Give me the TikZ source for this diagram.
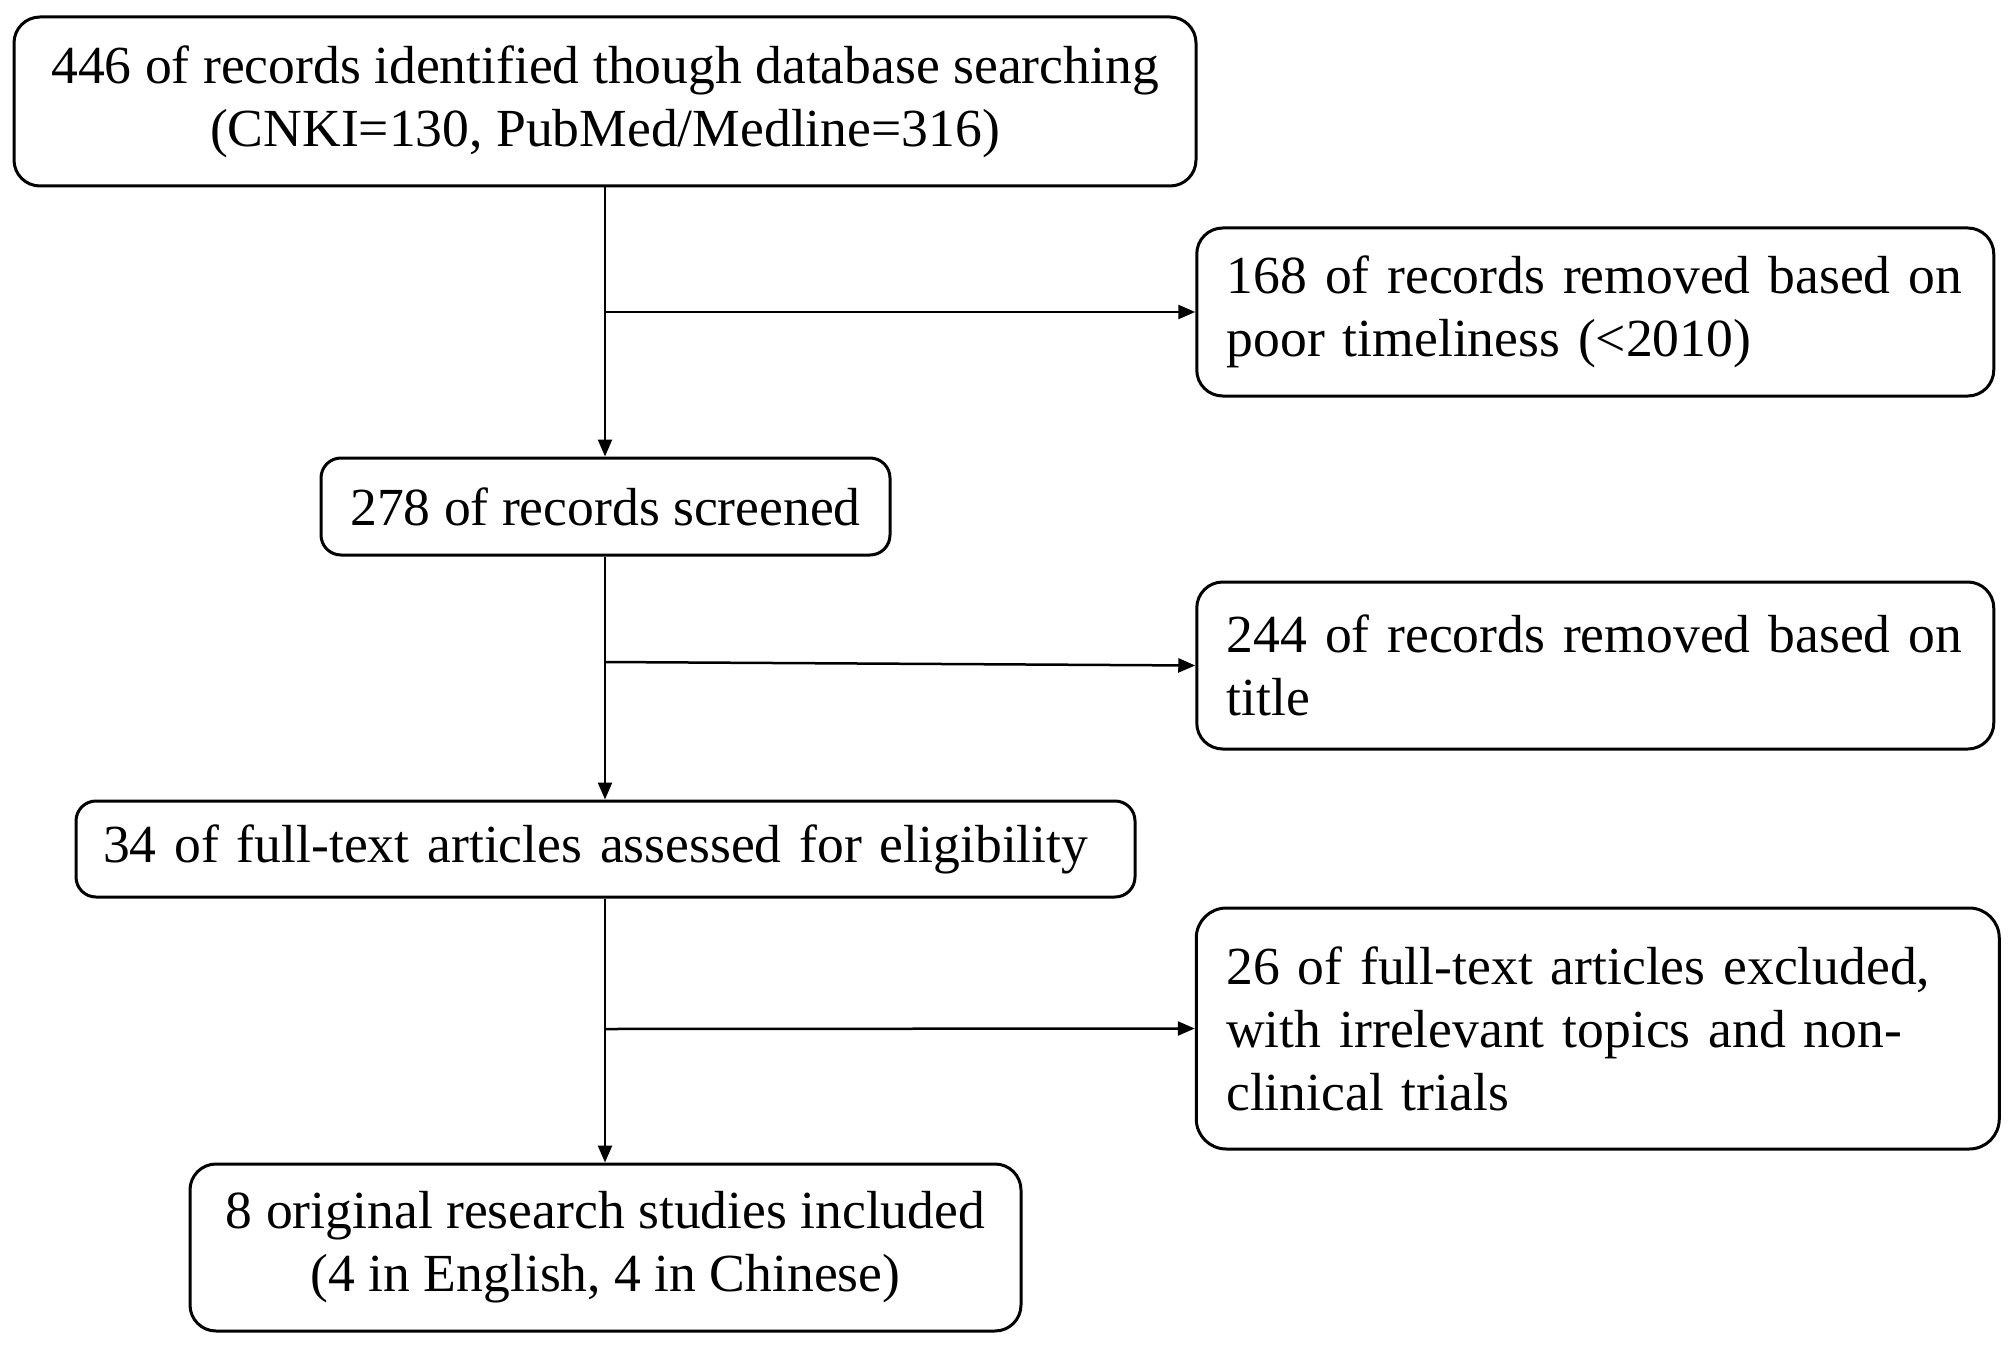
\documentclass[tikz,border=0pt]{standalone}
\usepackage{fontspec}
\setmainfont{Liberation Serif}
\usetikzlibrary{arrows.meta}
\begin{document}
\begin{tikzpicture}[x=0.5pt,y=-0.5pt,
  box/.style={draw=black, line width=1.5pt, rounded corners=13pt, inner ysep=0pt,
    font=\fontsize{26.8pt}{31.5pt}\selectfont},
  cbox/.style={box, align=center, inner xsep=0pt},
  rbox/.style={box, align=left, inner xsep=15pt, text width=368.5pt, minimum height=#1},
  conn/.style={line width=1.25pt, -{Triangle[length=8.5pt,width=7pt]}}]
\fill[white] (0,0) rectangle (2012,1348);
\useasboundingbox (0,0) rectangle (2012,1348);

\node[cbox, minimum width=591pt, minimum height=84.5pt] (b1) at (605,101.5)
  {446 of records identified though database searching\\(CNKI=130, PubMed/Medline=316)};
\node[rbox=84pt] (r1) at (1595.25,312)
  {168 of records removed based on\\poor timeliness (<2010)};
\node[cbox, rounded corners=10pt, minimum width=284.5pt, minimum height=48.5pt] (b2) at (605.5,506.5)
  {278 of records screened};
\node[rbox=83.5pt] (r2) at (1595.25,665.5)
  {244 of records removed based on\\title};
\node[box, rounded corners=10pt, align=left, inner xsep=13.5pt, text width=502.5pt, minimum height=48pt] (b3) at (605.5,849)
  {34 of full-text articles assessed for eligibility};
\node[rbox=120.5pt, rounded corners=15pt, text width=371.5pt] (r3) at (1597.75,1028.5)
  {26 of full-text articles excluded,\\with irrelevant topics and non-\\clinical trials};
\node[cbox, minimum width=415.5pt, minimum height=83.5pt] (b4) at (605.5,1247.5)
  {8 original research studies included\\(4 in English, 4 in Chinese)};

\coordinate (j1) at (605,312);
\coordinate (j2) at (605,662);
\coordinate (j3) at (605,1029);

\draw[conn] (b1.south -| j1) -- (b2.north -| j1);
\draw[conn] (j1) -- (r1.west);
\draw[conn] (b2.south -| j2) -- (b3.north -| j2);
\draw[conn] (j2) -- (r2.west);
\draw[conn] (b3.south -| j3) -- (b4.north -| j3);
\draw[conn] (j3) -- (r3.west);
\end{tikzpicture}
\end{document}
